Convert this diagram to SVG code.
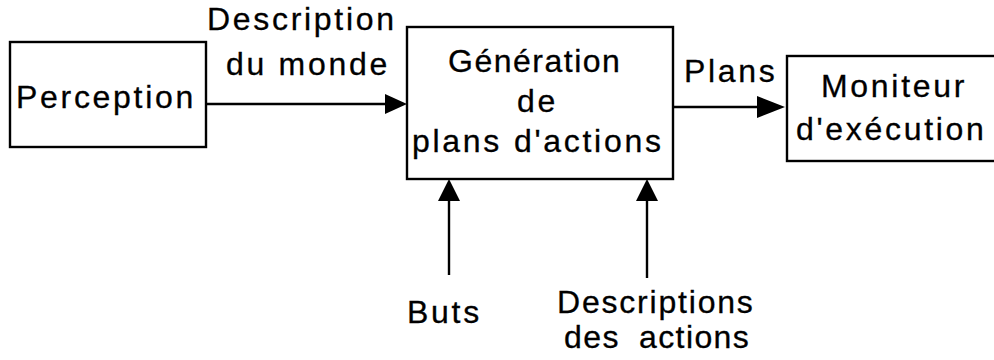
<svg xmlns="http://www.w3.org/2000/svg" width="994" height="360" viewBox="0 0 994 360">
  <style>
    .box { fill: #fff; stroke: #000; stroke-width: 2.4; }
    .lbl { font-family: "Liberation Sans", Arial, Helvetica, sans-serif; font-size: 32px; letter-spacing: 2.7px; fill: #000; stroke: #000; stroke-width: 0.3; }
    .wire { stroke: #000; stroke-width: 2.4; fill: none; }
    .tip { fill: #000; stroke: none; }
  </style>
  <rect width="994" height="360" fill="#fff"/>

  <!-- connectors -->
  <g id="connectors">
    <line class="wire" x1="206" y1="104" x2="388" y2="104"/>
    <polygon class="tip" points="407,104 385,94 385,114"/>
    <line class="wire" x1="673" y1="107" x2="760" y2="107"/>
    <polygon class="tip" points="785,107 757,96 757,118"/>
    <line class="wire" x1="449" y1="275" x2="449" y2="198"/>
    <polygon class="tip" points="449,179 438,201 460,201"/>
    <line class="wire" x1="647" y1="278" x2="647" y2="198"/>
    <polygon class="tip" points="647,179 636,201 658,201"/>
  </g>

  <!-- edge labels -->
  <g id="labels">
    <text class="lbl" x="207" y="30">Description</text>
    <text class="lbl" x="226" y="75">du monde</text>
    <text class="lbl" x="684" y="82">Plans</text>
    <text class="lbl" x="407" y="323">Buts</text>
    <text class="lbl" x="557" y="313" style="letter-spacing:1.8px">Descriptions</text>
    <text class="lbl" y="348" style="letter-spacing:1.4px"><tspan x="564">des</tspan><tspan x="639">actions</tspan></text>
  </g>

  <g id="perception">
    <rect class="box" x="10" y="42" width="196" height="105"/>
    <text class="lbl" x="16" y="108">Perception</text>
  </g>

  <g id="generation">
    <rect class="box" x="407" y="27" width="266" height="152"/>
    <text class="lbl" x="448" y="72" style="letter-spacing:1.5px">Génération</text>
    <text class="lbl" x="517" y="112">de</text>
    <text class="lbl" y="152"><tspan x="412">plans</tspan><tspan x="514">d'actions</tspan></text>
  </g>

  <g id="moniteur">
    <rect class="box" x="787" y="56" width="230" height="105"/>
    <text class="lbl" x="821" y="97">Moniteur</text>
    <text class="lbl" x="796" y="140">d'exécution</text>
  </g>
</svg>
